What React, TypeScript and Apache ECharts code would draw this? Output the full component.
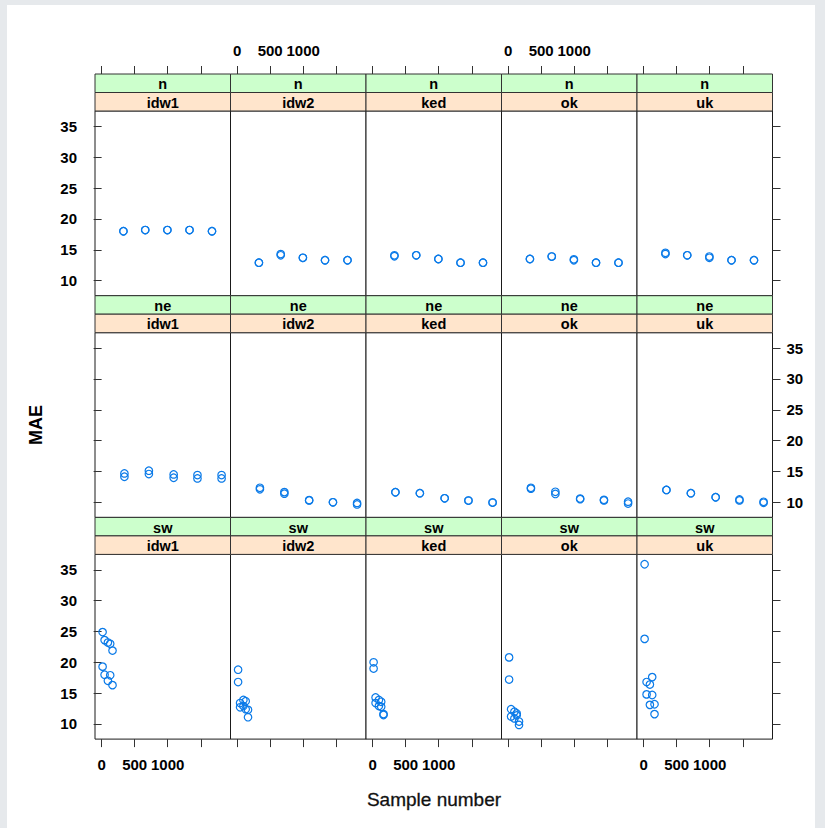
import React, { useEffect, useRef } from "react";
import * as echarts from "echarts";

const regions = ["n", "ne", "sw"];
const methods = ["idw1", "idw2", "ked", "ok", "uk"];

// sample numbers per region
const sampleN = [330, 660, 995, 1330, 1670];
const sampleNE = [345, 715, 1090, 1450, 1815];
const sampleSW = [15, 45, 95, 130, 165];

// MAE values, two replicates, rows = methods (idw1, idw2, ked, ok, uk)
const maeN_rep1 = [
  [18.0, 18.2, 18.2, 18.2, 18.0],
  [12.9, 14.1, 13.7, 13.3, 13.3],
  [13.95, 14.1, 13.5, 12.9, 12.9],
  [13.5, 13.9, 13.3, 12.9, 12.9],
  [14.3, 14.1, 13.7, 13.3, 13.3],
];
const maeN_rep2 = [
  [18.0, 18.2, 18.2, 18.2, 18.0],
  [12.9, 14.3, 13.7, 13.3, 13.3],
  [14.1, 14.1, 13.5, 12.9, 12.9],
  [13.5, 13.9, 13.45, 12.9, 12.9],
  [14.5, 14.1, 13.9, 13.3, 13.3],
];
const maeNE_rep1 = [
  [14.68, 15.12, 14.52, 14.41, 14.41],
  [12.35, 11.65, 10.35, 10.0, 9.9],
  [11.63, 11.47, 10.65, 10.28, 9.95],
  [12.35, 11.7, 10.6, 10.4, 10.1],
  [12.0, 11.47, 10.82, 10.45, 10.08],
];
const maeNE_rep2 = [
  [14.14, 14.58, 13.98, 13.87, 13.87],
  [12.1, 11.4, 10.3, 10.0, 9.65],
  [11.63, 11.47, 10.65, 10.28, 9.95],
  [12.2, 11.35, 10.5, 10.3, 9.8],
  [12.0, 11.47, 10.82, 10.3, 9.92],
];
const maeSW_rep1 = [
  [24.9, 23.6, 23.2, 23.0, 21.9],
  [18.8, 13.4, 13.9, 13.7, 12.3],
  [20.0, 14.3, 13.9, 13.6, 11.6],
  [20.8, 12.4, 12.0, 11.7, 10.4],
  [35.9, 16.8, 16.4, 17.6, 13.2],
];
const maeSW_rep2 = [
  [19.3, 18.0, 17.0, 17.9, 16.3],
  [16.8, 12.7, 12.9, 12.4, 11.1],
  [19.0, 13.4, 12.9, 12.8, 11.45],
  [17.2, 11.2, 10.9, 11.4, 9.85],
  [23.8, 14.8, 13.1, 14.7, 11.6],
];

const xTicks = [0, 500, 1000, 1500];
const xLabels = [0, 500, 1000];
const yTicks = [10, 15, 20, 25, 30, 35];

const xMin = -100;
const xMax = 1950;
const yMin = 7.55;
const yMax = 37.5;

const samples = [sampleN, sampleNE, sampleSW];
const rep1 = [maeN_rep1, maeNE_rep1, maeSW_rep1];
const rep2 = [maeN_rep2, maeNE_rep2, maeSW_rep2];

export default function App() {
  const ref = useRef<HTMLDivElement>(null);

  useEffect(() => {
    if (!ref.current) return;
    const chart = echarts.init(ref.current, null, { renderer: "svg" });

    const colLeft = [95, 230.5, 366, 501.5, 637];
    const colW = 135.5;
    const panelTop = [111, 332.7, 554.4];
    const panelH = 184.7;
    const stripH = 18.5;
    const font = "Liberation Sans, Arial, sans-serif";
    const fmt = (v: number) => String(v);
    const labelStyle = {
      fontFamily: font,
      fontSize: 15,
      fontWeight: "bold" as const,
      color: "#000",
      formatter: fmt,
    };

    const grid: any[] = [];
    const xAxis: any[] = [];
    const yAxis: any[] = [];
    const series: any[] = [];
    const graphic: any[] = [
      {
        type: "rect",
        shape: { x: 7, y: 5, width: 808, height: 830 },
        style: { fill: "#ffffff" },
        z: -10,
      },
    ];

    for (let r = 0; r < 3; r++) {
      for (let c = 0; c < 5; c++) {
        const idx = r * 5 + c;
        grid.push({
          left: colLeft[c],
          top: panelTop[r],
          width: colW,
          height: panelH,
          show: true,
          borderColor: "#1a1a1a",
          borderWidth: 1,
          backgroundColor: "#fff",
        });

        const xa: any = {
          gridIndex: idx,
          type: "value",
          min: xMin,
          max: xMax,
          splitLine: { show: false },
          axisLine: { show: false },
        };
        if (r === 0) {
          xa.position = "top";
          xa.offset = stripH * 2;
          xa.axisTick = {
            show: true,
            length: 8,
            customValues: xTicks,
            lineStyle: { color: "#333" },
          };
          xa.axisLabel = {
            show: c % 2 === 1,
            customValues: xLabels,
            margin: 16,
            ...labelStyle,
          };
        } else if (r === 2) {
          xa.position = "bottom";
          xa.axisTick = {
            show: true,
            length: 8,
            customValues: xTicks,
            lineStyle: { color: "#333" },
          };
          xa.axisLabel = {
            show: c % 2 === 0,
            customValues: xLabels,
            margin: 18,
            ...labelStyle,
          };
        } else {
          xa.show = false;
        }
        xAxis.push(xa);

        const ya: any = {
          gridIndex: idx,
          type: "value",
          min: yMin,
          max: yMax,
          splitLine: { show: false },
          axisLine: { show: false },
        };
        if (c === 0) {
          ya.position = "left";
          ya.axisTick = {
            show: true,
            length: 8,
            customValues: yTicks,
            lineStyle: { color: "#333" },
          };
          ya.axisLabel = {
            show: r !== 1,
            customValues: yTicks,
            margin: 18,
            ...labelStyle,
          };
        } else if (c === 4) {
          // left-positioned axis shifted onto the right border, ticks pointing outward
          ya.position = "left";
          ya.offset = -colW;
          ya.axisTick = {
            show: true,
            inside: true,
            length: 8,
            customValues: yTicks,
            lineStyle: { color: "#333" },
          };
          ya.axisLabel = {
            show: r === 1,
            inside: true,
            customValues: yTicks,
            margin: 14,
            ...labelStyle,
          };
        } else {
          ya.show = false;
        }
        yAxis.push(ya);

        const data: number[][] = [];
        const xs = samples[r];
        for (let i = 0; i < xs.length; i++) {
          data.push([xs[i], rep1[r][c][i]]);
          data.push([xs[i], rep2[r][c][i]]);
        }
        series.push({
          type: "scatter",
          xAxisIndex: idx,
          yAxisIndex: idx,
          data,
          symbol: "circle",
          symbolSize: 7.5,
          itemStyle: {
            color: "rgba(0,0,0,0)",
            borderColor: "#0a7ae8",
            borderWidth: 1.2,
            opacity: 1,
          },
          silent: true,
        });

        // strips
        const sx = colLeft[c];
        const gTop = panelTop[r] - stripH * 2;
        graphic.push({
          type: "rect",
          shape: { x: sx, y: gTop, width: colW, height: stripH },
          style: { fill: "#ccffcc", stroke: "#333", lineWidth: 1 },
          z: 5,
        });
        graphic.push({
          type: "rect",
          shape: { x: sx, y: gTop + stripH, width: colW, height: stripH },
          style: { fill: "#ffe5cc", stroke: "#333", lineWidth: 1 },
          z: 5,
        });
        graphic.push({
          type: "text",
          x: sx + colW / 2,
          y: gTop + stripH / 2 + 1,
          style: {
            text: regions[r],
            fontFamily: font,
            fontSize: 14.5,
            fontWeight: "bold",
            fill: "#000",
            align: "center",
            verticalAlign: "middle",
          },
          z: 6,
        });
        graphic.push({
          type: "text",
          x: sx + colW / 2,
          y: gTop + stripH * 1.5 + 1,
          style: {
            text: methods[c],
            fontFamily: font,
            fontSize: 14.5,
            fontWeight: "bold",
            fill: "#000",
            align: "center",
            verticalAlign: "middle",
          },
          z: 6,
        });
      }
    }

    graphic.push({
      type: "text",
      x: 36,
      y: 425,
      rotation: Math.PI / 2,
      style: {
        text: "MAE",
        fontFamily: font,
        fontSize: 18,
        fontWeight: "bold",
        fill: "#000",
        align: "center",
        verticalAlign: "middle",
      },
      z: 6,
    });
    graphic.push({
      type: "text",
      x: 434,
      y: 799,
      style: {
        text: "Sample number",
        fontFamily: font,
        fontSize: 19,
        fill: "#111",
        align: "center",
        verticalAlign: "middle",
        stroke: "#111",
        lineWidth: 0.3,
      },
      z: 6,
    });

    chart.setOption({
      animation: false,
      backgroundColor: "#e6e9ec",
      grid,
      xAxis,
      yAxis,
      series,
      graphic,
    });

    return () => chart.dispose();
  }, []);

  return (
    <div
      ref={ref}
      style={{ position: "absolute", left: 0, top: 0, width: 825, height: 828 }}
    />
  );
}
